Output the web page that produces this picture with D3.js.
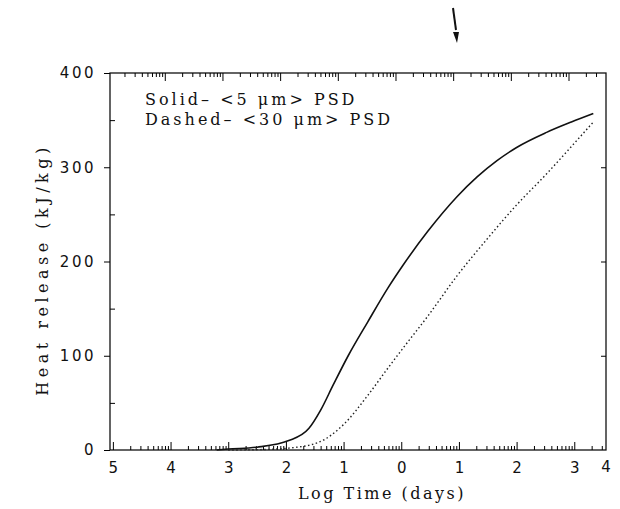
<!DOCTYPE html>
<html>
<head>
<meta charset="utf-8">
<script src="https://cdn.jsdelivr.net/npm/d3@7"></script>
<style>
  body { margin: 0; background: #fff; }
  svg text { font-family: "DejaVu Serif", serif; fill: #111; }
</style>
</head>
<body>
<div id="chart"></div>
<script>
// log time (days) and heat release (kJ/kg)
const solidX = [-3.2, -3.0, -2.5, -1.95, -1.6, -1.4, -1.18, -0.92, -0.58, -0.23, 0.03, 0.46, 0.97, 1.32, 1.66, 2.0, 2.52, 2.95, 3.33];
const solidY = [0, 1, 3, 10, 23, 42, 69, 100, 136, 172, 196, 232, 269, 290, 307, 321, 337, 348, 357];
const dashedX = [-3.0, -2.4, -1.95, -1.44, -1.0, -0.58, -0.23, 0.03, 0.46, 0.97, 1.49, 2.0, 2.52, 2.95, 3.33];
const dashedY = [0, 0.5, 2, 8, 27, 58, 87, 108, 142, 185, 224, 260, 293, 322, 348];
const xTicks = [-5, -4, -3, -2, -1, 0, 1, 2, 3, 4];
const yTicks = [0, 100, 200, 300, 400];
const legendLines = ["Solid\u2013 <5 \u03bcm> PSD", "Dashed\u2013 <30 \u03bcm> PSD"];

const W = 620, H = 509;
const margin = { top: 73, right: 14, bottom: 59, left: 110 };
const width = W - margin.left - margin.right;
const height = H - margin.top - margin.bottom;

const svg = d3.select("#chart").append("svg")
  .attr("width", W).attr("height", H);
const g = svg.append("g")
  .attr("transform", "translate(" + margin.left + "," + margin.top + ")");

const x = d3.scaleLinear().domain([-5.05, 3.55]).range([0, width]);
const y = d3.scaleLinear().domain([0, 400]).range([height, 0]);

// frame
g.append("rect").attr("width", width).attr("height", height)
  .attr("fill", "none").attr("stroke", "#111").attr("stroke-width", 1.3);

// left axis
const yAxis = g.append("g")
  .call(d3.axisLeft(y).tickValues(yTicks).tickSize(6).tickPadding(8));
yAxis.select(".domain").remove();
yAxis.selectAll("text").style("font-size", "15px").style("letter-spacing", "2.5px")
  .style("font-family", '"DejaVu Sans", sans-serif');
g.append("g").call(d3.axisLeft(y).tickValues(d3.range(50, 400, 100)).tickSize(-5).tickFormat(""))
  .select(".domain").remove();

// right axis
const yRight = g.append("g").attr("transform", "translate(" + width + ",0)")
  .call(d3.axisRight(y).tickValues([100, 200, 300]).tickSize(-5).tickFormat(""));
yRight.select(".domain").remove();

// bottom axis, log minor ticks inward
const minor = [];
d3.range(-5, 4).forEach(d => {
  for (let k = 2; k <= 9; k++) {
    const v = d + Math.log10(k);
    if (v < x.domain()[1]) minor.push(v);
  }
});
const xAxis = g.append("g").attr("transform", "translate(0," + height + ")")
  .call(d3.axisBottom(x).tickValues(xTicks.filter(t => t <= 3)).tickSize(-8).tickPadding(12)
    .tickFormat(d => Math.abs(d)));
xAxis.select(".domain").remove();
xAxis.selectAll("text").style("font-size", "15px").style("font-family", '"DejaVu Sans", sans-serif');
xAxis.append("text").attr("x", width).attr("y", 22).attr("text-anchor", "middle")
  .style("font-size", "15px").style("font-family", '"DejaVu Sans", sans-serif')
  .text(Math.abs(xTicks[xTicks.length - 1]));
g.append("g").attr("transform", "translate(0," + height + ")")
  .call(d3.axisBottom(x).tickValues(minor).tickSize(-4).tickFormat(""))
  .select(".domain").remove();

// top axis with log minor ticks
const topAxis = g.append("g")
  .call(d3.axisTop(x).tickValues(minor.map(v => v - 0.1).filter(v => v > -4.9)).tickSize(-4).tickFormat(""));
topAxis.select(".domain").remove();
g.append("g")
  .call(d3.axisTop(x).tickValues(d3.range(-4, 4).map(v => v - 0.1)).tickSize(-8).tickFormat(""))
  .select(".domain").remove();

// curves
const line = d3.line().curve(d3.curveMonotoneX)
  .x(d => x(d[0])).y(d => y(d[1]));
g.append("path").datum(d3.zip(solidX, solidY))
  .attr("d", line).attr("fill", "none").attr("stroke", "#111").attr("stroke-width", 1.6);
g.append("path").datum(d3.zip(dashedX, dashedY))
  .attr("d", line).attr("fill", "none").attr("stroke", "#222").attr("stroke-width", 1.4)
  .attr("stroke-dasharray", "1.5,2.5");

// legend text
legendLines.forEach((t, i) => {
  g.append("text").attr("x", 35).attr("y", 32 + i * 20)
    .style("font-size", "16px").style("letter-spacing", "3px").text(t);
});

// axis titles
svg.append("text").attr("x", 382).attr("y", H - 10)
  .attr("text-anchor", "middle").style("font-size", "16px").style("letter-spacing", "2.5px")
  .text("Log Time (days)");
svg.append("text").attr("transform", "translate(48," + (margin.top + height / 2 + 8) + ") rotate(-90)")
  .attr("text-anchor", "middle").style("font-size", "16px").style("letter-spacing", "4.5px")
  .text("Heat release (kJ/kg)");

// pen mark above the top axis
svg.append("path").attr("d", "M453,8 L456,30").attr("stroke", "#111").attr("stroke-width", 2);
svg.append("path").attr("d", "M453,32 L459,32 L457,43 Z").attr("fill", "#111");
</script>
</body>
</html>
